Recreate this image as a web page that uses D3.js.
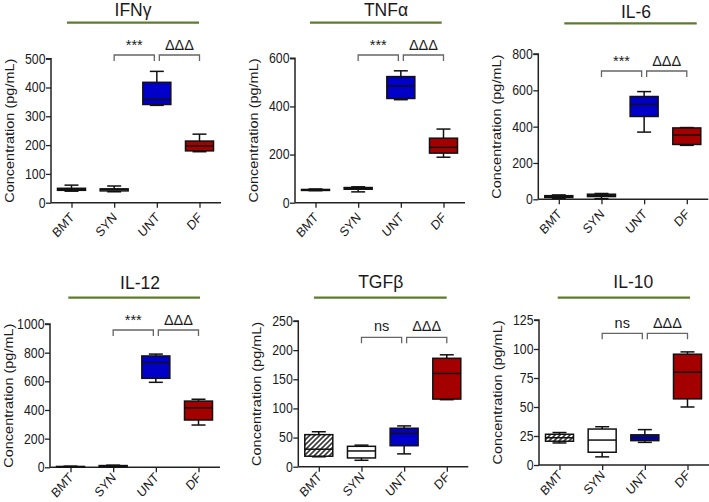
<!DOCTYPE html>
<html><head><meta charset="utf-8">
<script src="https://cdn.jsdelivr.net/npm/d3@7"></script>
<style>
html,body{margin:0;padding:0;background:#fff;}
svg{display:block;}
text{font-family:"Liberation Sans",Arial,sans-serif;fill:#1a1a1a;}
</style></head>
<body>
<svg id="c" width="709" height="502"></svg>
<script>
// ---------- DATA ----------
const groups = ["BMT", "SYN", "UNT", "DF"];
const titles = ["IFNγ", "TNFα", "IL-6", "IL-12", "TGFβ", "IL-10"];
const yLabel = "Concentration (pg/mL)";
// each group: [min, q1, median, q3, max]
const ifng  = [[40,43,46,50,61],[38,41,46,48,58],[338,341,358,418,456],[177,180,197,214,238]];
const tnfa  = [[50,51,53,55,57],[45,56,59,63,66],[428,433,485,524,548],[189,206,230,268,306]];
const il6   = [[5,10,14,20,24],[3,15,22,28,32],[370,456,523,566,593],[297,302,354,393,395]];
const il12  = [[1,2,4,6,8],[2,4,8,12,15],[593,621,730,777,790],[295,330,415,462,475]];
const tgfb  = [[17,18,30,55,60],[11,15,27,35,37],[22,36,57,66,70],[115,116,160,186,192]];
const il10  = [[19,20.5,23.5,26.5,28],[7,11,21.5,31,33],[19.5,21,23.5,26,30.5],[50,57,80,95.5,97.5]];
const yMax  = [500, 600, 800, 1000, 250, 125];
const yStep = [100, 200, 200, 200, 50, 25];
const sigLeft  = ["***", "***", "***", "***", "ns", "ns"];
const sigRight = ["ΔΔΔ", "ΔΔΔ", "ΔΔΔ", "ΔΔΔ", "ΔΔΔ", "ΔΔΔ"];
const series = [ifng, tnfa, il6, il12, tgfb, il10];

// ---------- LAYOUT ----------
const layout = [
  {left:51,    top:58.7, bottom:202.7, tx:133,   ty:15.5,lx0:67,    lx1:199,   ly:22.7, by:55,    bt:50,   xo:15.5},
  {left:295,   top:58.3, bottom:202.7, tx:386,   ty:15.5,lx0:310,   lx1:441.7, ly:22.7, by:55,    bt:50,   xo:15.5},
  {left:538.3, top:54,   bottom:199.3, tx:636,   ty:18,  lx0:564.3, lx1:696.7, ly:23.3, by:71,    bt:65.7, xo:15.5},
  {left:50,    top:324,  bottom:467.3, tx:140,   ty:289, lx0:68.3,  lx1:200,   ly:297.7,by:330,   bt:325,  xo:11},
  {left:298.3, top:321,  bottom:466.7, tx:380.7, ty:288, lx0:314,   lx1:446.7, ly:297.7,by:337.3, bt:331,  xo:11},
  {left:539,   top:320,  bottom:465,   tx:633.3, ty:288, lx0:557.7, lx1:690,   ly:297.7,by:333.3, bt:328,  xo:11}
];
const fills = ["url(#hatch)", "#ffffff", "#0000c8", "#a50000"];
const boxW = 28, capW = 14;
const SX = 0.88; // horizontal squeeze of the axis texts

const svg = d3.select("#c");
const defs = svg.append("defs");
const pat = defs.append("pattern").attr("id","hatch").attr("patternUnits","userSpaceOnUse")
  .attr("width",5).attr("height",5);
pat.append("rect").attr("width",5).attr("height",5).attr("fill","#fff");
pat.append("path").attr("d","M-1,6L6,-1M-2,2L2,-2M3,7L7,3").attr("stroke","#3a3a3a").attr("stroke-width",1.6);

series.forEach((data, i) => {
  const L = layout[i];
  const g = svg.append("g");
  const y = d3.scaleLinear().domain([0, yMax[i]]).range([L.bottom, L.top]);
  const x = d3.scalePoint().domain(groups).range([L.left + 20.5, L.left + 148.5]);
  const xEnd = L.left + 170;

  // title + green line
  g.append("text").attr("x", L.tx).attr("y", L.ty).attr("text-anchor","middle")
    .style("font-size","17.5px").text(titles[i]);
  g.append("line").attr("x1",L.lx0).attr("x2",L.lx1).attr("y1",L.ly).attr("y2",L.ly)
    .attr("stroke","#5e7c2e").attr("stroke-width",2.2);

  // y axis
  const ticks = d3.range(0, yMax[i] + 0.001, yStep[i]);
  const ya = g.append("g").attr("transform",`translate(${L.left},0)`)
    .call(d3.axisLeft(y).tickValues(ticks).tickSize(5).tickFormat(""));
  ya.select(".domain").attr("stroke","#222").attr("stroke-width",1.5).attr("d",`M-5,${L.top}H0V${L.bottom}`);
  ya.selectAll(".tick line").attr("stroke","#222").attr("stroke-width",1.3);
  ticks.forEach(t => {
    g.append("g").attr("transform",`translate(${L.left - 5.5},${y(t)}) scale(${SX},1)`)
      .append("text").attr("text-anchor","end").attr("dy","0.35em").style("font-size","14px")
      .text(d3.format("d")(t));
  });

  // x axis
  const xa = g.append("g").attr("transform",`translate(0,${L.bottom})`)
    .call(d3.axisBottom(x).tickSize(5).tickFormat(""));
  xa.select(".domain").attr("stroke","#222").attr("stroke-width",1.5).attr("d",`M${L.left},0H${xEnd}`);
  xa.selectAll(".tick line").attr("stroke","#222").attr("stroke-width",1.3);
  groups.forEach(gr => {
    g.append("g").attr("transform",`translate(${x(gr) + 3.5},${L.bottom + L.xo}) scale(${SX},1)`)
      .append("text").attr("text-anchor","end").attr("transform","rotate(-45)")
      .style("font-size","13.5px").text(gr);
  });

  // y label
  g.append("g").attr("transform",`translate(${L.left - 37},${(L.top + L.bottom) / 2}) scale(${SX},1)`)
    .append("text").attr("text-anchor","middle").attr("transform","rotate(-90)")
    .style("font-size","14.5px").text(yLabel);

  // boxes
  data.forEach((s, j) => {
    const cx = x(groups[j]);
    const [mn,q1,md,q3,mx] = s;
    const bg = g.append("g").attr("stroke","#111").attr("stroke-width",1.5);
    bg.append("line").attr("x1",cx).attr("x2",cx).attr("y1",y(mx)).attr("y2",y(q3));
    bg.append("line").attr("x1",cx).attr("x2",cx).attr("y1",y(q1)).attr("y2",y(mn));
    bg.append("line").attr("x1",cx-capW/2).attr("x2",cx+capW/2).attr("y1",y(mx)).attr("y2",y(mx));
    bg.append("line").attr("x1",cx-capW/2).attr("x2",cx+capW/2).attr("y1",y(mn)).attr("y2",y(mn));
    bg.append("rect").attr("x",cx-boxW/2).attr("width",boxW).attr("y",y(q3))
      .attr("height",Math.max(y(q1)-y(q3),0.5)).attr("fill",fills[j]);
    bg.append("line").attr("x1",cx-boxW/2).attr("x2",cx+boxW/2).attr("y1",y(md)).attr("y2",y(md));
  });

  // significance brackets
  const bra = g.append("g").attr("fill","none").attr("stroke","#666").attr("stroke-width",1.3);
  const a = x("SYN"), b = x("UNT") - 2.5, c = x("UNT") + 2.5, d = x("DF");
  bra.append("path").attr("d",`M${a},${L.by+6}V${L.by}H${b}V${L.by+6}`);
  bra.append("path").attr("d",`M${c},${L.by+6}V${L.by}H${d}V${L.by+6}`);
  g.append("text").attr("x",(a+b)/2).attr("y",L.bt).attr("text-anchor","middle").style("font-size","14.5px").text(sigLeft[i]);
  g.append("text").attr("x",(c+d)/2).attr("y",L.bt).attr("text-anchor","middle").style("font-size","14.5px").text(sigRight[i]);
});
</script>
</body></html>
